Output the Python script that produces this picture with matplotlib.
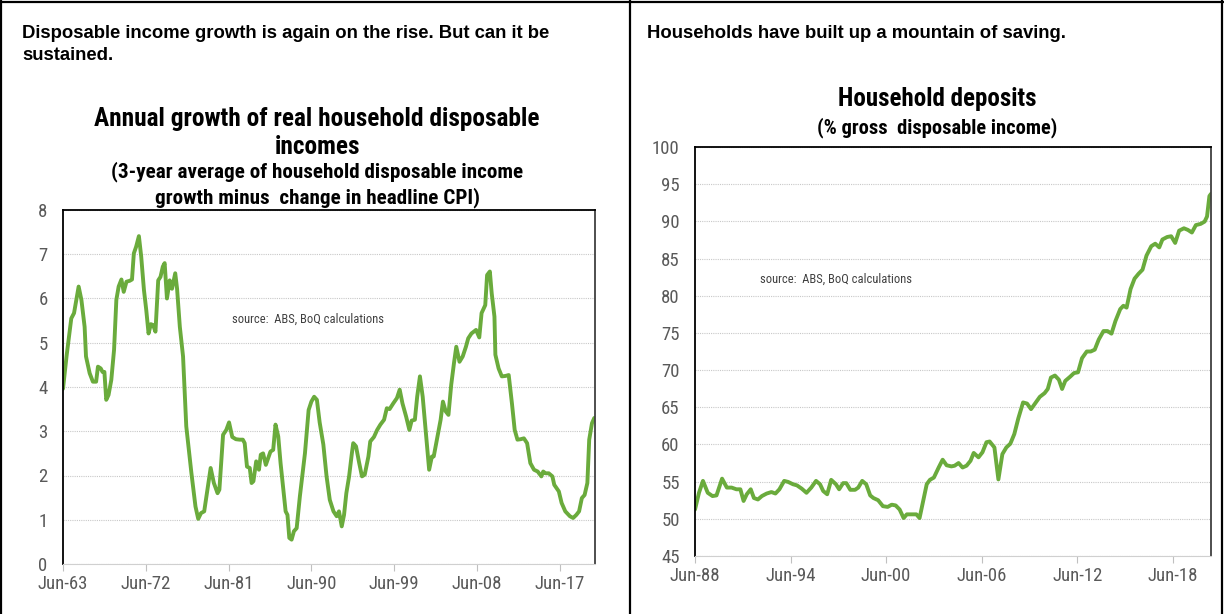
import matplotlib
matplotlib.use('Agg')
import matplotlib.pyplot as plt
from matplotlib.lines import Line2D

# left chart: real household disposable income growth, %
inc_years = [1963.5, 1963.9, 1964.4, 1964.7, 1965.2, 1965.5, 1965.85, 1966.0, 1966.4, 1966.75,
             1967.1, 1967.3, 1967.6, 1967.8, 1968.0, 1968.2, 1968.45, 1968.75, 1969.05, 1969.3,
             1969.55, 1969.85, 1970.1, 1970.4, 1970.75, 1971.0, 1971.2, 1971.45, 1971.75, 1972.0,
             1972.3, 1972.55, 1972.8, 1973.05, 1973.3, 1973.55, 1973.85, 1974.1, 1974.35, 1974.55,
             1974.8, 1975.1, 1975.35, 1975.7, 1975.9, 1976.2, 1976.55, 1976.9, 1977.45, 1977.9,
             1978.2, 1978.5, 1978.85, 1979.2, 1979.55, 1979.9, 1980.3, 1980.5, 1980.9, 1981.25,
             1981.55, 1981.9, 1982.3, 1982.7, 1983.05, 1983.25, 1983.5, 1983.8, 1984.0, 1984.2,
             1984.5, 1984.8, 1985.0, 1985.25, 1985.55, 1985.8, 1986.05, 1986.35, 1986.6, 1986.9,
             1987.15, 1987.45, 1987.7, 1987.9, 1988.1, 1988.35, 1988.6, 1988.9, 1989.25, 1989.8,
             1990.2, 1990.5, 1990.8, 1991.1, 1991.4, 1991.8, 1992.15, 1992.5, 1992.9, 1993.25,
             1993.5, 1993.8, 1994.05, 1994.3, 1994.6, 1994.9, 1995.05, 1995.35, 1995.7, 1996.0,
             1996.3, 1996.7, 1996.9, 1997.3, 1997.65, 1998.0, 1998.4, 1998.7, 1999.0, 1999.4,
             1999.8, 2000.1, 2000.4, 2000.8, 2001.15, 2001.4, 2001.75, 2002.0, 2002.3, 2002.6,
             2002.95, 2003.3, 2003.6, 2003.8, 2004.2, 2004.55, 2004.8, 2005.1, 2005.4, 2005.7,
             2006.0, 2006.25, 2006.6, 2006.95, 2007.3, 2007.55, 2007.9, 2008.4, 2008.75, 2009.0,
             2009.4, 2009.6, 2009.9, 2010.1, 2010.4, 2010.5, 2010.85, 2011.2, 2011.6, 2011.95,
             2012.3, 2012.6, 2012.9, 2013.25, 2013.6, 2013.95, 2014.3, 2014.7, 2015.1, 2015.5,
             2015.7, 2015.95, 2016.3, 2016.7, 2016.9, 2017.4, 2017.7, 2018.1, 2018.6, 2018.95,
             2019.3, 2019.6, 2019.9, 2020.2, 2020.5, 2020.7, 2021.0, 2021.25]
inc_values = [3.96, 4.72, 5.55, 5.67, 6.27, 5.97, 5.36, 4.69, 4.31, 4.12,
              4.12, 4.46, 4.42, 4.34, 4.34, 3.71, 3.82, 4.16, 4.84, 5.97,
              6.27, 6.43, 6.15, 6.38, 6.4, 6.43, 7.02, 7.17, 7.41, 6.95,
              6.19, 5.74, 5.21, 5.42, 5.4, 5.25, 6.41, 6.49, 6.72, 6.8,
              6.0, 6.41, 6.22, 6.57, 6.22, 5.36, 4.69, 3.11, 2.07, 1.3,
              1.02, 1.15, 1.19, 1.68, 2.17, 1.83, 1.6, 1.68, 2.92, 3.03,
              3.2, 2.87, 2.82, 2.81, 2.81, 2.73, 2.2, 2.17, 1.83, 1.87,
              2.32, 2.13, 2.47, 2.5, 2.24, 2.39, 2.54, 2.58, 3.15, 2.88,
              2.28, 1.68, 1.19, 1.11, 0.59, 0.55, 0.74, 0.81, 1.53, 2.5,
              3.48, 3.67, 3.78, 3.71, 3.2, 2.7, 1.98, 1.45, 1.19, 1.08,
              1.19, 0.85, 1.11, 1.6, 1.98, 2.5, 2.73, 2.66, 2.28, 1.98,
              2.02, 2.43, 2.77, 2.87, 3.03, 3.15, 3.26, 3.52, 3.5, 3.63,
              3.75, 3.94, 3.63, 3.33, 3.03, 3.24, 3.26, 3.78, 4.24, 3.78,
              2.96, 2.13, 2.43, 2.43, 2.88, 3.26, 3.67, 3.45, 3.37, 4.05,
              4.54, 4.91, 4.57, 4.69, 4.91, 5.1, 5.21, 5.29, 5.12, 5.67,
              5.85, 6.53, 6.61, 6.12, 5.59, 4.73, 4.42, 4.24, 4.25, 4.27,
              3.63, 3.03, 2.81, 2.82, 2.84, 2.73, 2.28, 2.13, 2.09, 1.98,
              2.09, 2.05, 2.05, 1.98, 1.79, 1.64, 1.38, 1.19, 1.08, 1.04,
              1.11, 1.19, 1.49, 1.56, 1.83, 2.81, 3.18, 3.3]
inc_ticks = [1963.5, 1972.5, 1981.5, 1990.5, 1999.5, 2008.5, 2017.5]
inc_labels = ['Jun-63', 'Jun-72', 'Jun-81', 'Jun-90', 'Jun-99', 'Jun-08', 'Jun-17']

# right chart: household deposits, % of gross disposable income
dep_years = [1988.5, 1988.75, 1989.0, 1989.3, 1989.6, 1989.85, 1990.2, 1990.5, 1990.8, 1991.1,
             1991.35, 1991.55, 1991.75, 1992.0, 1992.2, 1992.45, 1992.7, 1993.0, 1993.3, 1993.55,
             1993.8, 1994.1, 1994.35, 1994.65, 1994.9, 1995.2, 1995.5, 1995.8, 1996.1, 1996.35,
             1996.55, 1996.8, 1997.05, 1997.35, 1997.55, 1997.8, 1998.0, 1998.25, 1998.55, 1998.75,
             1999.0, 1999.25, 1999.5, 1999.7, 2000.0, 2000.3, 2000.6, 2000.85, 2001.1, 2001.35,
             2001.6, 2001.8, 2002.1, 2002.4, 2002.6, 2002.85, 2003.05, 2003.25, 2003.5, 2003.8,
             2004.05, 2004.3, 2004.6, 2004.8, 2005.05, 2005.3, 2005.55, 2005.8, 2006.0, 2006.3,
             2006.55, 2006.8, 2007.0, 2007.3, 2007.55, 2007.8, 2008.05, 2008.3, 2008.55, 2008.8,
             2009.1, 2009.35, 2009.6, 2009.85, 2010.15, 2010.45, 2010.65, 2010.85, 2011.1, 2011.35,
             2011.55, 2011.75, 2012.05, 2012.3, 2012.55, 2012.8, 2013.1, 2013.35, 2013.6, 2013.85,
             2014.15, 2014.4, 2014.65, 2014.9, 2015.2, 2015.4, 2015.6, 2015.85, 2016.1, 2016.35,
             2016.6, 2016.85, 2017.15, 2017.4, 2017.65, 2017.85, 2018.15, 2018.4, 2018.65, 2018.9,
             2019.2, 2019.45, 2019.7, 2019.95, 2020.25, 2020.5, 2020.65, 2020.8, 2020.9]
dep_values = [51.25, 53.5, 55.1, 53.5, 53.06, 53.15, 55.4, 54.2, 54.2, 53.97,
              53.97, 52.4, 53.3, 53.97, 52.8, 52.6, 53.06, 53.4, 53.6, 53.4,
              53.97, 55.1, 54.96, 54.65, 54.5, 54.06, 53.5, 54.2, 55.1, 54.65,
              53.74, 53.3, 55.24, 54.65, 53.97, 54.8, 54.8, 53.9, 53.9, 54.2,
              55.1, 54.65, 53.15, 52.8, 52.5, 51.7, 51.6, 51.9, 51.8, 51.25,
              50.1, 50.6, 50.6, 50.6, 50.1, 52.6, 54.65, 55.24, 55.55, 56.9,
              57.95, 57.2, 57.05, 57.14, 57.5, 56.9, 57.14, 57.8, 58.86, 58.27,
              58.95, 60.3, 60.4, 59.6, 55.3, 58.7, 59.6, 60.1, 61.4, 63.5,
              65.65, 65.5, 64.75, 65.5, 66.4, 66.9, 67.46, 69.0, 69.27, 68.7,
              67.46, 68.55, 69.1, 69.6, 69.7, 71.6, 72.5, 72.5, 72.75, 74.1,
              75.25, 75.25, 74.9, 76.6, 78.2, 78.65, 78.4, 80.9, 82.3, 82.95,
              83.5, 85.4, 86.66, 87.0, 86.5, 87.56, 87.9, 88.0, 87.1, 88.75,
              89.07, 88.85, 88.5, 89.5, 89.66, 89.97, 90.65, 93.4, 93.7]
dep_ticks = [1988.5, 1994.5, 2000.5, 2006.5, 2012.5, 2018.5]
dep_labels = ['Jun-88', 'Jun-94', 'Jun-00', 'Jun-06', 'Jun-12', 'Jun-18']

green = '#6aab3c'
grey_txt = '#595959'
narrow = ['Liberation Sans Narrow', 'Arial Narrow', 'Roboto Condensed', 'Archivo Narrow',
          'PT Sans Narrow', 'Pragati Narrow', 'Fira Sans Condensed', 'Liberation Sans', 'DejaVu Sans']
arial = ['Liberation Sans', 'DejaVu Sans']

W, H = 1224, 614


def fx(x):
    return x / W


def fy(y):
    return 1 - y / H


fig = plt.figure(figsize=(W / 100, H / 100), dpi=100)

# table cell borders
for xs, ys in [((1, 1), (0, H)), ((W - 2, W - 2), (0, H)), ((630, 630), (0, H)), ((0, W), (2, 2))]:
    fig.add_artist(Line2D([fx(x) for x in xs], [fy(y) for y in ys],
                          transform=fig.transFigure, color='black', lw=1.6))

# cell headings
fig.text(fx(22), fy(34), 'Disposable income growth is again on the rise. But can it be',
         family=arial, weight='bold', size=13.3, va='center')
fig.text(fx(22), fy(56), 'sustained.', family=arial, weight='bold', size=13.3, va='center')
fig.text(fx(647), fy(34), 'Households have built up a mountain of saving.',
         family=arial, weight='bold', size=13.3, va='center')

# chart titles
fig.text(fx(317), fy(119), 'Annual growth of real household disposable', family=narrow,
         weight='bold', size=18.3, ha='center', va='center')
fig.text(fx(317), fy(147), 'incomes', family=narrow, weight='bold', size=18.3, ha='center', va='center')
fig.text(fx(317), fy(172), '(3-year average of household disposable income', family=narrow,
         weight='bold', size=15.2, ha='center', va='center')
fig.text(fx(317), fy(198), 'growth minus  change in headline CPI)', family=narrow,
         weight='bold', size=15.2, ha='center', va='center')
fig.text(fx(937), fy(99), 'Household deposits', family=narrow, weight='bold', size=18,
         ha='center', va='center')
fig.text(fx(937), fy(128), '(% gross  disposable income)', family=narrow, weight='bold',
         size=14.8, ha='center', va='center')


def setup(ax, years, values, ticks, labels, x1, ymin, ymax, ystep):
    ax.plot(years, values, color=green, lw=2.8, solid_joinstyle='round', solid_capstyle='round')
    ax.set_xlim(ticks[0], x1)
    ax.set_ylim(ymin, ymax)
    ax.set_yticks(range(ymin, ymax + 1, ystep))
    ax.set_xticks(ticks, labels)
    ax.yaxis.grid(True, color='#c8c8c8', ls=(0, (1, 1)), lw=0.8)
    ax.set_axisbelow(True)
    ax.tick_params(axis='y', length=0, pad=11, labelsize=13.5, labelcolor=grey_txt)
    ax.tick_params(axis='x', length=5, direction='out', color='#c0c0c0', width=0.8, pad=3,
                   labelsize=13.5, labelcolor=grey_txt)
    for lab in ax.get_xticklabels() + ax.get_yticklabels():
        lab.set_family(narrow)
    ax.spines['left'].set_color('black')
    ax.spines['left'].set_linewidth(1.3)
    ax.spines['top'].set_color('black')
    ax.spines['top'].set_linewidth(1.3)
    ax.spines['right'].set_color('#404040')
    ax.spines['right'].set_linewidth(1.3)
    ax.spines['bottom'].set_color('#d0d0d0')
    ax.spines['bottom'].set_linewidth(0.8)


ax1 = fig.add_axes([fx(63), fy(564), (595 - 63) / W, (564 - 210) / H])
setup(ax1, inc_years, inc_values, inc_ticks, inc_labels, 2021.33, 0, 8, 1)
ax1.text(0.46, 0.69, 'source:  ABS, BoQ calculations', transform=ax1.transAxes, family=narrow,
         size=9, color='#404040', ha='center', va='center')

ax2 = fig.add_axes([fx(695), fy(556), (1211 - 695) / W, (556 - 147) / H])
setup(ax2, dep_years, dep_values, dep_ticks, dep_labels, 2020.9, 45, 100, 5)
ax2.text(0.273, 0.677, 'source:  ABS, BoQ calculations', transform=ax2.transAxes, family=narrow,
         size=9, color='#404040', ha='center', va='center')

fig.savefig('out.png', dpi=100)
